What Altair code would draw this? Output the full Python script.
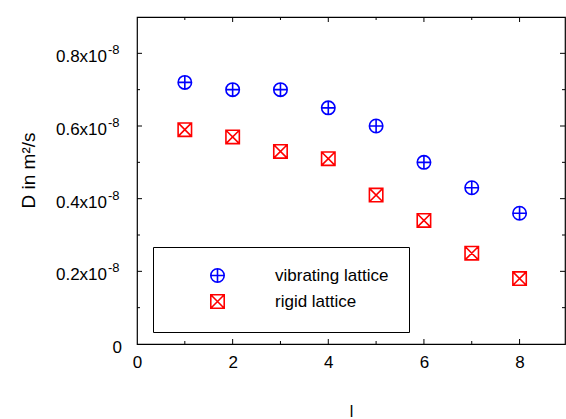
import altair as alt
import pandas as pd

# ---- data ----
l_values = [1, 2, 3, 4, 5, 6, 7, 8]
vibrating = [0.72e-8, 0.70e-8, 0.70e-8, 0.65e-8, 0.60e-8, 0.50e-8, 0.43e-8, 0.36e-8]
rigid = [0.59e-8, 0.57e-8, 0.53e-8, 0.51e-8, 0.41e-8, 0.34e-8, 0.25e-8, 0.18e-8]
series_names = ["vibrating lattice", "rigid lattice"]

x_labels = [0, 2, 4, 6, 8]
x_major_ticks = [2, 4, 6, 8]
x_minor_ticks = [1, 3, 5, 7]
y_zero_label = [0]
y_zero_text = ["0"]
y_labels = [0.2e-8, 0.4e-8, 0.6e-8, 0.8e-8]
y_label_text = ["0.2x10", "0.4x10", "0.6x10", "0.8x10"]
y_label_exp = ["-8", "-8", "-8", "-8"]
y_major_ticks = [0.2e-8, 0.4e-8, 0.6e-8, 0.8e-8]
y_minor_ticks = [0.1e-8, 0.3e-8, 0.5e-8, 0.7e-8]

W, H = 428, 327
FONT = "Liberation Sans"

df = pd.DataFrame({
    "l": l_values * 2,
    "D": vibrating + rigid,
    "series": [series_names[0]] * len(l_values) + [series_names[1]] * len(l_values),
})

x_scale = alt.Scale(domain=[0, 8.95], nice=False, zero=False)
y_scale = alt.Scale(domain=[0, 0.9e-8], nice=False, zero=False)

circle_plus = "M-1,0A1,1 0 1,1 1,0A1,1 0 1,1 -1,0Z M-1,0L1,0 M0,-1L0,1"
square_x = "M-1,-1L1,-1L1,1L-1,1Z M-1,-1L1,1 M-1,1L1,-1"

points = alt.Chart(df).mark_point(filled=False, strokeWidth=1.6, size=180, opacity=1).encode(
    x=alt.X("l:Q", scale=x_scale,
            axis=alt.Axis(values=x_labels, ticks=False, tickSize=0, grid=False, domain=False,
                          labelPadding=10, labelFontSize=17, labelFont=FONT, labelColor="black",
                          title="l", titleFont=FONT, titleFontSize=16, titleFontWeight="normal",
                          titleColor="black", titlePadding=33, labelFlush=False)),
    y=alt.Y("D:Q", scale=y_scale,
            axis=alt.Axis(labels=False, ticks=False, tickSize=0, grid=False, domain=False,
                          title="D in m²/s", titleFont=FONT, titleFontSize=19,
                          titleFontWeight="normal", titleColor="black",
                          titleX=-109, titleY=153, titleAngle=-90,
                          titleAlign="center", titleBaseline="middle")),
    color=alt.Color("series:N", scale=alt.Scale(domain=series_names, range=["#0000ff", "#ff0000"]),
                    legend=alt.Legend(title=None, orient="none", legendX=16, legendY=230,
                                      padding=20, strokeColor="black", fillColor="white",
                                      symbolOffset=36, labelOffset=49, rowPadding=5,
                                      labelFontSize=17, labelFont=FONT, labelColor="black",
                                      symbolSize=180, symbolStrokeWidth=1.6,
                                      symbolFillColor="transparent")),
    shape=alt.Shape("series:N", scale=alt.Scale(domain=series_names, range=[circle_plus, square_x])),
)

# y tick labels with raised exponent
ylab_df = pd.DataFrame({"v": y_labels, "main": y_label_text, "exp": y_label_exp})
y_main = alt.Chart(ylab_df).mark_text(align="right", baseline="middle", fontSize=17,
                                      font=FONT, color="black", dy=4).encode(
    y=alt.Y("v:Q", scale=y_scale), x=alt.value(-30), text="main:N")
y_exp = alt.Chart(ylab_df).mark_text(align="left", baseline="middle", fontSize=13,
                                     font=FONT, color="black", dy=-3).encode(
    y=alt.Y("v:Q", scale=y_scale), x=alt.value(-29), text="exp:N")
zero_df = pd.DataFrame({"v": y_zero_label, "main": y_zero_text})
y_zero = alt.Chart(zero_df).mark_text(align="right", baseline="middle", fontSize=17,
                                      font=FONT, color="black", dy=4).encode(
    y=alt.Y("v:Q", scale=y_scale), x=alt.value(-15), text="main:N")


def xticks(vals, length):
    d = pd.DataFrame({"t": vals})
    base = alt.Chart(d).mark_rule(color="black", strokeWidth=1)
    bottom = base.encode(x=alt.X("t:Q", scale=x_scale), y=alt.value(H), y2=alt.value(H - length))
    top = base.encode(x=alt.X("t:Q", scale=x_scale), y=alt.value(0), y2=alt.value(length))
    return [bottom, top]


def yticks(vals, length):
    d = pd.DataFrame({"t": vals})
    base = alt.Chart(d).mark_rule(color="black", strokeWidth=1)
    left = base.encode(y=alt.Y("t:Q", scale=y_scale), x=alt.value(0), x2=alt.value(length))
    right = base.encode(y=alt.Y("t:Q", scale=y_scale), x=alt.value(W), x2=alt.value(W - length))
    return [left, right]


tick_layers = (xticks(x_major_ticks, 5) + xticks(x_minor_ticks, 3)
               + yticks(y_major_ticks, 5) + yticks(y_minor_ticks, 3))

chart = alt.layer(points, y_main, y_exp, y_zero, *tick_layers).properties(
    width=W, height=H,
    autosize=alt.AutoSizeParams(type="none"),
    padding={"left": 137, "top": 17, "right": 1, "bottom": 75},
    background="white",
).configure_view(stroke="black", strokeWidth=1.2)

chart.save("out.html", embed_options={"renderer": "svg", "actions": False})
